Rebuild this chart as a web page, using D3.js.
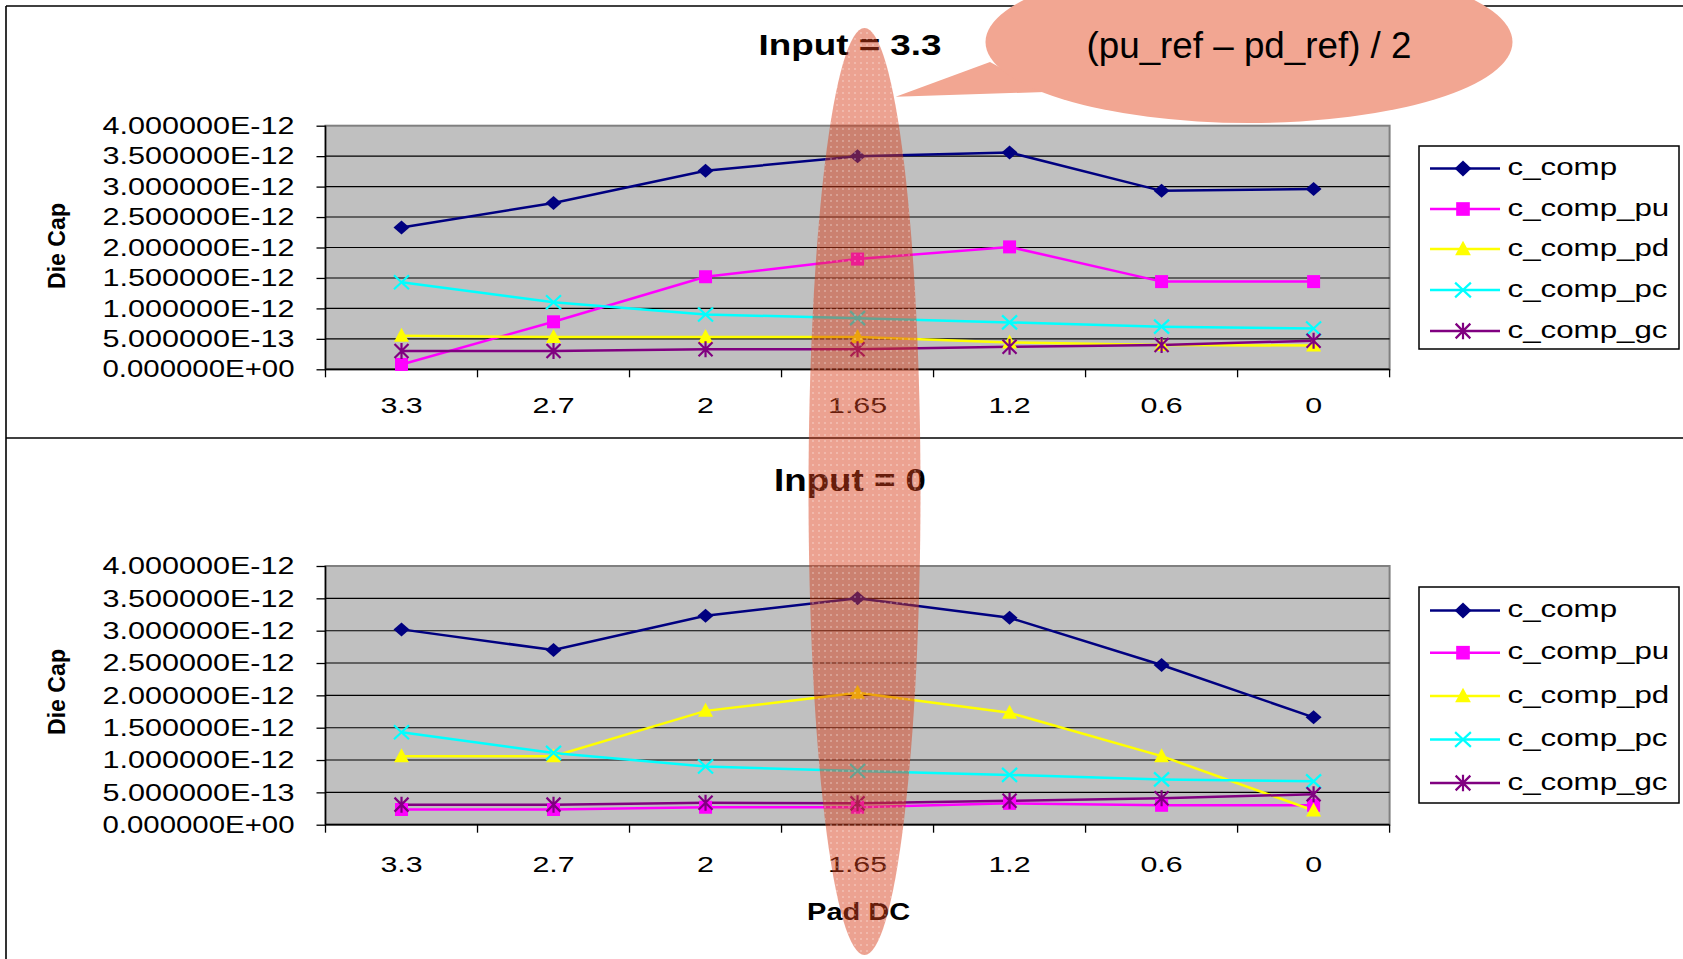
<!DOCTYPE html>
<html><head><meta charset="utf-8">
<script src="https://cdn.jsdelivr.net/npm/d3@7"></script>
<style>body{margin:0;background:#fff;} svg{display:block;}</style>
</head><body>
<svg id="c" width="1683" height="959"></svg>
<script>
// ---------- data ----------
const categories = ["3.3", "2.7", "2", "1.65", "1.2", "0.6", "0"];
const seriesNames = ["c_comp", "c_comp_pu", "c_comp_pd", "c_comp_pc", "c_comp_gc"];
const yTickValues = [0, 0.5e-12, 1.0e-12, 1.5e-12, 2.0e-12, 2.5e-12, 3.0e-12, 3.5e-12, 4.0e-12];

const top_c_comp    = [2.33e-12, 2.73e-12, 3.26e-12, 3.50e-12, 3.56e-12, 2.93e-12, 2.96e-12];
const top_c_comp_pu = [0.08e-12, 0.78e-12, 1.52e-12, 1.81e-12, 2.01e-12, 1.44e-12, 1.44e-12];
const top_c_comp_pd = [0.55e-12, 0.53e-12, 0.53e-12, 0.53e-12, 0.44e-12, 0.40e-12, 0.39e-12];
const top_c_comp_pc = [1.43e-12, 1.10e-12, 0.90e-12, 0.84e-12, 0.77e-12, 0.70e-12, 0.67e-12];
const top_c_comp_gc = [0.30e-12, 0.30e-12, 0.33e-12, 0.33e-12, 0.37e-12, 0.40e-12, 0.47e-12];

const bot_c_comp    = [3.02e-12, 2.70e-12, 3.23e-12, 3.50e-12, 3.20e-12, 2.47e-12, 1.66e-12];
const bot_c_comp_pu = [0.235e-12, 0.235e-12, 0.27e-12, 0.27e-12, 0.33e-12, 0.30e-12, 0.30e-12];
const bot_c_comp_pd = [1.06e-12, 1.06e-12, 1.76e-12, 2.04e-12, 1.73e-12, 1.06e-12, 0.22e-12];
const bot_c_comp_pc = [1.43e-12, 1.11e-12, 0.90e-12, 0.83e-12, 0.77e-12, 0.70e-12, 0.67e-12];
const bot_c_comp_gc = [0.31e-12, 0.31e-12, 0.34e-12, 0.33e-12, 0.37e-12, 0.41e-12, 0.47e-12];

const titleTop = "Input = 3.3";
const titleBottom = "Input = 0";
const yTitle = "Die Cap";
const xTitle = "Pad DC";
const calloutText = "(pu_ref \u2013 pd_ref) / 2";

// ---------- style ----------
const colors = ["#000080", "#FF00FF", "#FFFF00", "#00FFFF", "#800080"];
const FONT = "Arial, 'Liberation Sans', sans-serif";

const svg = d3.select("#c");
const defs = svg.append("defs");
const pat = defs.append("pattern").attr("id", "dots").attr("width", 6).attr("height", 6)
  .attr("patternUnits", "userSpaceOnUse");
pat.append("circle").attr("cx", 3).attr("cy", 3).attr("r", 0.8).attr("fill", "#fff").attr("opacity", 0.55);

function fmtExp(d) {
  const s = d.toExponential(6).split("e");
  const sign = s[1][0];
  const digits = s[1].slice(1).padStart(2, "0");
  return s[0] + "E" + sign + digits;
}
function stretch(sel, sx) {
  sel.each(function () {
    const L = this.getComputedTextLength();
    d3.select(this).attr("textLength", L * sx).attr("lengthAdjust", "spacingAndGlyphs");
  });
}
function fitWidth(sel, w) {
  sel.attr("textLength", w).attr("lengthAdjust", "spacingAndGlyphs");
}

function drawMarker(g, i, x, y, big) {
  const c = colors[i];
  const k = big ? 1.05 : 1;
  if (i === 0) {
    const w = 16 * k, h = (big ? 16 : 14);
    g.append("path").attr("d", `M${x},${y - h / 2}L${x + w / 2},${y}L${x},${y + h / 2}L${x - w / 2},${y}Z`).attr("fill", c);
  } else if (i === 1) {
    const s = 13 * k;
    g.append("rect").attr("x", x - s / 2).attr("y", y - s / 2).attr("width", s).attr("height", s).attr("fill", c);
  } else if (i === 2) {
    const w = 15 * k, h = 14 * k;
    g.append("path").attr("d", `M${x},${y - h / 2 - 1}L${x + w / 2},${y + h / 2 - 1}L${x - w / 2},${y + h / 2 - 1}Z`).attr("fill", c);
  } else if (i === 3) {
    const w = 7.5 * k, h = 7 * k;
    g.append("path").attr("d", `M${x - w},${y - h}L${x + w},${y + h}M${x - w},${y + h}L${x + w},${y - h}`)
      .attr("stroke", c).attr("stroke-width", 2.2).attr("fill", "none");
  } else {
    const w = 7 * k, h = 7 * k;
    g.append("path").attr("d", `M${x - w},${y - h}L${x + w},${y + h}M${x - w},${y + h}L${x + w},${y - h}M${x},${y - h - 1}L${x},${y + h + 1}`)
      .attr("stroke", c).attr("stroke-width", 2.2).attr("fill", "none");
  }
}

// ---------- frame ----------
svg.append("line").attr("x1", 6).attr("x2", 1683).attr("y1", 6).attr("y2", 6).attr("stroke", "#000").attr("stroke-width", 1.6);
svg.append("line").attr("x1", 6).attr("x2", 6).attr("y1", 6).attr("y2", 959).attr("stroke", "#000").attr("stroke-width", 1.6);
svg.append("line").attr("x1", 6).attr("x2", 1683).attr("y1", 438).attr("y2", 438).attr("stroke", "#000").attr("stroke-width", 1.6);

const panels = [
  { title: titleTop, titleY: 55, titleW: 183, titleSize: 30,
    top: 125.7, bottom: 369.3, xLabelY: 44, yTitleY: 246,
    legend: { y0: 146, y1: 349, items: [168.5, 209, 249, 290, 331] },
    series: [top_c_comp, top_c_comp_pu, top_c_comp_pd, top_c_comp_pc, top_c_comp_gc] },
  { title: titleBottom, titleY: 491, titleW: 152, titleSize: 32,
    top: 566, bottom: 824.7, xLabelY: 47, yTitleY: 692,
    legend: { y0: 587, y1: 803, items: [610.5, 652.7, 696, 739.5, 783] },
    series: [bot_c_comp, bot_c_comp_pu, bot_c_comp_pd, bot_c_comp_pc, bot_c_comp_gc] }
];

const left = 325.5, right = 1389.6;
const x = d3.scaleBand().domain(categories).range([left, right]).padding(0);

panels.forEach((p, pi) => {
  const g = svg.append("g");
  const y = d3.scaleLinear().domain([0, 4e-12]).range([p.bottom, p.top]);

  // plot area
  g.append("rect").attr("x", left).attr("y", p.top).attr("width", right - left).attr("height", p.bottom - p.top)
    .attr("fill", "#C0C0C0").attr("stroke", "#808080").attr("stroke-width", 2);
  // gridlines
  g.selectAll(".grid").data(yTickValues.filter(v => v > 0 && v < 4e-12)).join("line")
    .attr("x1", left).attr("x2", right).attr("y1", d => y(d)).attr("y2", d => y(d))
    .attr("stroke", "#000").attr("stroke-width", 1.1);

  // y axis
  const ya = g.append("g").attr("transform", `translate(${left},0)`)
    .call(d3.axisLeft(y).tickValues(yTickValues).tickSize(9).tickFormat(fmtExp));
  ya.select(".domain").remove();
  ya.selectAll(".tick line").attr("stroke", "#000").attr("stroke-width", 1.3);
  const yt = ya.selectAll(".tick text").attr("x", -31).attr("font-family", FONT).attr("font-size", 24).attr("fill", "#000");
  fitWidth(yt, 192);
  g.append("line").attr("x1", left).attr("x2", left).attr("y1", p.top).attr("y2", p.bottom).attr("stroke", "#000").attr("stroke-width", 1.5);

  // x axis
  const xa = g.append("g").attr("transform", `translate(0,${p.bottom})`)
    .call(d3.axisBottom(x).tickSize(0));
  xa.select(".domain").remove();
  const xt = xa.selectAll(".tick text").attr("y", p.xLabelY).attr("dy", 0)
    .attr("font-family", FONT).attr("font-size", 22).attr("fill", "#000");
  stretch(xt, 1.38);
  const edges = d3.range(categories.length + 1).map(i => x.range()[0] + i * x.step());
  g.selectAll(".xt").data(edges).join("line")
    .attr("x1", d => d).attr("x2", d => d).attr("y1", p.bottom).attr("y2", p.bottom + 8)
    .attr("stroke", "#000").attr("stroke-width", 1.3);
  g.append("line").attr("x1", left).attr("x2", right).attr("y1", p.bottom).attr("y2", p.bottom).attr("stroke", "#000").attr("stroke-width", 1.8);

  // series
  const line = d3.line().x((d, i) => x(categories[i]) + x.bandwidth() / 2).y(d => y(d));
  p.series.forEach((vals, si) => {
    g.append("path").datum(vals).attr("d", line).attr("fill", "none")
      .attr("stroke", colors[si]).attr("stroke-width", 2.5);
  });
  p.series.forEach((vals, si) => {
    vals.forEach((v, i) => drawMarker(g, si, x(categories[i]) + x.bandwidth() / 2, y(v), false));
  });

  // titles
  const t = g.append("text").attr("x", 850).attr("y", p.titleY).attr("text-anchor", "middle")
    .attr("font-family", FONT).attr("font-weight", "bold").attr("font-size", p.titleSize).text(p.title);
  fitWidth(t, p.titleW);
  const yt2 = g.append("text").attr("transform", `translate(65,${p.yTitleY}) rotate(-90)`).attr("text-anchor", "middle")
    .attr("font-family", FONT).attr("font-weight", "bold").attr("font-size", 23).text(yTitle);
  fitWidth(yt2, 86);

  // legend
  const L = p.legend;
  g.append("rect").attr("x", 1419).attr("y", L.y0).attr("width", 260).attr("height", L.y1 - L.y0)
    .attr("fill", "#fff").attr("stroke", "#000").attr("stroke-width", 1.5);
  seriesNames.forEach((name, si) => {
    const ly = L.items[si];
    g.append("line").attr("x1", 1430).attr("x2", 1500).attr("y1", ly).attr("y2", ly)
      .attr("stroke", colors[si]).attr("stroke-width", 2.5);
    drawMarker(g, si, 1463, ly, true);
    const lt = g.append("text").attr("x", 1507.5).attr("y", ly + 6.5).attr("font-family", FONT)
      .attr("font-size", 23).attr("fill", "#000").text(name);
    stretch(lt, 1.36);
  });
});

// x axis title
const xtt = svg.append("text").attr("x", 858.6).attr("y", 920).attr("text-anchor", "middle")
  .attr("font-family", FONT).attr("font-weight", "bold").attr("font-size", 24).text(xTitle);
fitWidth(xtt, 103);

// ---------- overlay highlight ellipse ----------
svg.append("ellipse").attr("cx", 864.5).attr("cy", 491.5).attr("rx", 56).attr("ry", 463.5)
  .attr("fill", "rgb(215,60,25)").attr("fill-opacity", 0.48);
svg.append("ellipse").attr("cx", 864.5).attr("cy", 491.5).attr("rx", 56).attr("ry", 463.5)
  .attr("fill", "url(#dots)");

// ---------- callout ----------
svg.append("path").attr("d", "M990,62L895.7,96.7L1045,92Z").attr("fill", "#F2A692");
svg.append("ellipse").attr("cx", 1249).attr("cy", 42).attr("rx", 263.5).attr("ry", 81).attr("fill", "#F2A692");
const ct = svg.append("text").attr("x", 1249).attr("y", 57.7).attr("text-anchor", "middle")
  .attr("font-family", FONT).attr("font-size", 36).attr("fill", "#000").text(calloutText);
fitWidth(ct, 325);
</script>
</body></html>
